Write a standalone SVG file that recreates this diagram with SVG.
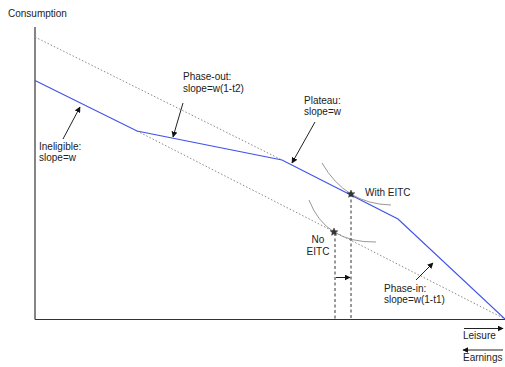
<svg xmlns="http://www.w3.org/2000/svg" width="505" height="367" viewBox="0 0 505 367">
<defs>
<style>
text{font-family:"Liberation Sans",Arial,sans-serif;font-size:10px;fill:#222}
.axis{stroke:#333;stroke-width:1.2;fill:none}
.dot{stroke:#888;stroke-width:1;stroke-dasharray:1.5 2;fill:none}
.blue{stroke:#4254e8;stroke-width:1.2;fill:none}
.ic{stroke:#999;stroke-width:1;fill:none}
.dash{stroke:#333;stroke-width:1;stroke-dasharray:3 2.5;fill:none}
.lab{stroke:#222;stroke-width:1;fill:none;marker-end:url(#ah)}
</style>
<marker id="ah" viewBox="0 0 10 10" refX="9" refY="5" markerWidth="6" markerHeight="6" orient="auto" markerUnits="userSpaceOnUse">
<path d="M0,0 L10,5 L0,10 z" fill="#111"/>
</marker>
<path id="star" d="M0,-4 L1.2,-1.3 L3.8,-1.2 L1.8,0.6 L2.4,3.3 L0,1.8 L-2.4,3.3 L-1.8,0.6 L-3.8,-1.2 L-1.2,-1.3 z" fill="#333" stroke="#333" stroke-width="0.5"/>
</defs>
<g id="axes">
<line class="axis" x1="35" y1="27" x2="35" y2="319.5"/>
<line class="axis" x1="35" y1="319.5" x2="505" y2="319.5"/>
<text x="8" y="17">Consumption</text>
</g>
<g id="connectors">
<line class="dot" x1="35" y1="37" x2="282" y2="160"/>
<line class="dot" x1="137" y1="131" x2="505" y2="319"/>
<polyline class="blue" points="35,80.5 137,131 282,160 398,219 505,319"/>
<path class="ic" d="M322,163 Q345.5,204 391,205"/>
<path class="ic" d="M309,200 Q325.5,243 376,242"/>
<line class="dash" x1="351" y1="194" x2="351" y2="319"/>
<line class="dash" x1="335" y1="233" x2="335" y2="319"/>
<line class="lab" x1="336" y1="277.5" x2="350" y2="277.5"/>
<line class="lab" x1="63" y1="139" x2="80" y2="107"/>
<line class="lab" x1="183" y1="103" x2="173" y2="137"/>
<line class="lab" x1="315" y1="122" x2="292" y2="163"/>
<line class="lab" x1="416" y1="280" x2="433" y2="263"/>
<line class="lab" x1="464" y1="328.5" x2="503" y2="328.5"/>
<line class="lab" x1="503" y1="350" x2="463" y2="350"/>
</g>
<g id="with-eitc">
<use href="#star" x="351" y="194"/>
<text x="365" y="196">With EITC</text>
</g>
<g id="no-eitc">
<use href="#star" x="334" y="232"/>
<text x="318" y="243" text-anchor="middle">No</text>
<text x="318" y="255" text-anchor="middle">EITC</text>
</g>
<g id="ineligible">
<text x="39" y="150">Ineligible:</text>
<text x="39" y="161">slope=w</text>
</g>
<g id="phase-out">
<text x="183" y="80">Phase-out:</text>
<text x="183" y="92">slope=w(1-t2)</text>
</g>
<g id="plateau">
<text x="304" y="104">Plateau:</text>
<text x="304" y="115">slope=w</text>
</g>
<g id="phase-in">
<text x="384" y="292">Phase-in:</text>
<text x="384" y="303">slope=w(1-t1)</text>
</g>
<g id="leisure"><text x="463" y="339">Leisure</text></g>
<g id="earnings"><text x="463" y="361">Earnings</text></g>
</svg>
